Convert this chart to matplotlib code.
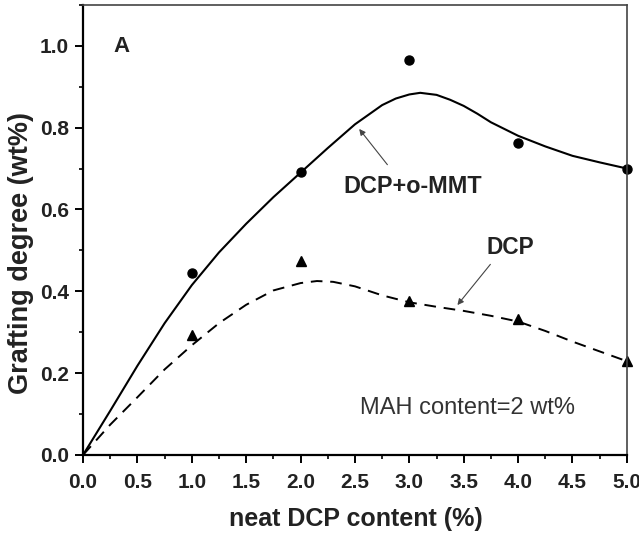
import matplotlib
matplotlib.use("Agg")
import matplotlib.pyplot as plt
from matplotlib.ticker import MultipleLocator, FormatStrFormatter

plt.rcParams['font.family'] = ['Liberation Sans', 'DejaVu Sans']

# measured points
x_pts = [1, 2, 3, 4, 5]
mmt_pts = [0.444, 0.691, 0.965, 0.762, 0.700]
dcp_pts = [0.294, 0.473, 0.375, 0.331, 0.230]

# fitted curves
mmt_curve_x = [0, 0.25, 0.5, 0.75, 1.0, 1.25, 1.5, 1.75, 2.0, 2.25, 2.5, 2.75,
               2.875, 3.0, 3.1, 3.25, 3.375, 3.5, 3.625, 3.75, 4.0, 4.25, 4.5,
               4.75, 5.0]
mmt_curve = [0, 0.108, 0.218, 0.322, 0.415, 0.495, 0.565, 0.630, 0.690, 0.750,
             0.808, 0.855, 0.871, 0.881, 0.885, 0.880, 0.868, 0.853, 0.834,
             0.813, 0.780, 0.754, 0.731, 0.715, 0.700]
dcp_curve_x = [0, 0.25, 0.5, 0.75, 1.0, 1.25, 1.5, 1.75, 2.0, 2.15, 2.3, 2.5,
               2.75, 3.0, 3.25, 3.5, 3.75, 4.0, 4.25, 4.5, 4.75, 5.0]
dcp_curve = [0, 0.074, 0.141, 0.209, 0.268, 0.322, 0.367, 0.402, 0.420, 0.425,
             0.423, 0.412, 0.390, 0.373, 0.362, 0.352, 0.340, 0.326, 0.303,
             0.277, 0.253, 0.229]

fig = plt.figure(figsize=(6.39, 5.39), dpi=100)
ax = fig.add_axes([0.130, 0.156, 0.851, 0.835])

ax.plot(mmt_curve_x, mmt_curve, color='black', lw=1.5)
ax.plot(dcp_curve_x, dcp_curve, color='black', lw=1.4, dashes=(6, 4))
ax.plot(x_pts, mmt_pts, 'o', color='black', ms=6.5, clip_on=False)
ax.plot(x_pts, dcp_pts, '^', color='black', ms=7, clip_on=False)

ax.set_xlim(0, 5)
ax.set_ylim(0, 1.1)
ax.xaxis.set_major_locator(MultipleLocator(0.5))
ax.xaxis.set_minor_locator(MultipleLocator(0.25))
ax.yaxis.set_major_locator(MultipleLocator(0.2))
ax.yaxis.set_minor_locator(MultipleLocator(0.1))
ax.xaxis.set_major_formatter(FormatStrFormatter('%.1f'))
ax.yaxis.set_major_formatter(FormatStrFormatter('%.1f'))
ax.tick_params(which='major', direction='out', length=6, width=1.4,
               labelsize=15)
ax.tick_params(axis='x', which='major', pad=7)
ax.tick_params(axis='y', which='major', pad=4)
ax.tick_params(which='minor', direction='out', length=3, width=1.2)
for lab in ax.get_xticklabels() + ax.get_yticklabels():
    lab.set_fontweight('bold')
    lab.set_color('#222222')

for s in ['left', 'bottom']:
    ax.spines[s].set_linewidth(1.6)
for s in ['top', 'right']:
    ax.spines[s].set_linewidth(1.2)
    ax.spines[s].set_color('#444444')

ax.set_xlabel('neat DCP content (%)', fontsize=18, fontweight='bold',
              color='#222222')
ax.set_ylabel('Grafting degree (wt%)', fontsize=19.5, fontweight='bold',
              color='#222222')
ax.xaxis.set_label_coords(0.501, -0.142)
ax.xaxis.label.set_verticalalignment('center')
ax.yaxis.set_label_coords(-0.114, 0.448)
ax.yaxis.label.set_verticalalignment('center')

ax.text(0.355, 0.998, 'A', fontsize=16, fontweight='bold', ha='center',
        va='center', color='#222222')
ax.text(3.03, 0.657, 'DCP+o-MMT', fontsize=16.8, fontweight='bold',
        ha='center', va='center', color='#222222')
ax.annotate('', xy=(2.523, 0.802), xytext=(2.814, 0.704),
            arrowprops=dict(arrowstyle='-|>', color='#444444', lw=0.8,
                            mutation_scale=9))
ax.text(3.93, 0.507, 'DCP', fontsize=16.3, fontweight='bold', ha='center',
        va='center', color='#222222')
ax.annotate('', xy=(3.426, 0.361), xytext=(3.761, 0.471),
            arrowprops=dict(arrowstyle='-|>', color='#444444', lw=0.8,
                            mutation_scale=9))
ax.text(3.535, 0.115, 'MAH content=2 wt%', fontsize=17, ha='center',
        va='center', color='#333333')

fig.savefig('out.png', dpi=100)
